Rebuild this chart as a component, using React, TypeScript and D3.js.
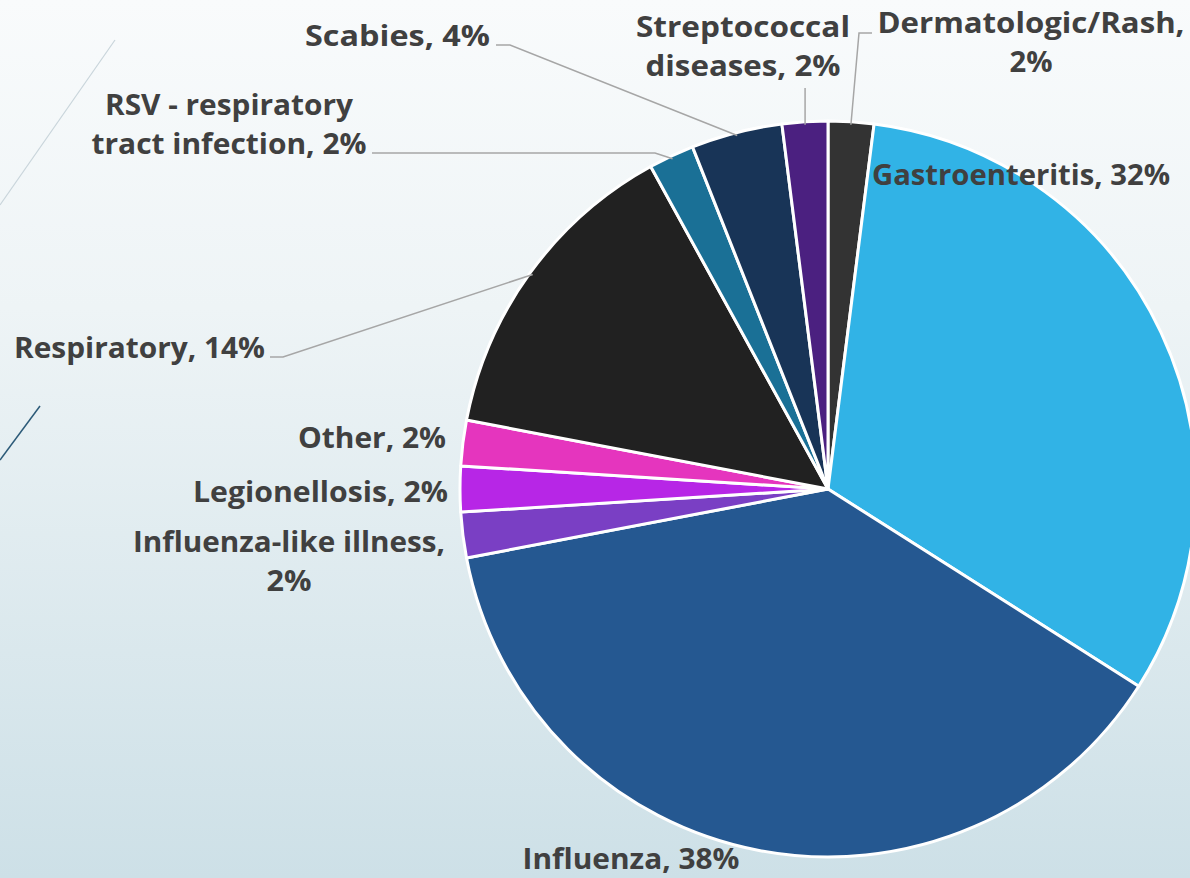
import React from "react";
import * as d3 from "d3";

const categories = [
  "Dermatologic/Rash",
  "Gastroenteritis",
  "Influenza",
  "Influenza-like illness",
  "Legionellosis",
  "Other",
  "Respiratory",
  "RSV - respiratory tract infection",
  "Scabies",
  "Streptococcal diseases",
];
const values = [1, 16, 19, 1, 1, 1, 7, 1, 2, 1];
const colors = [
  "#333333",
  "#31b3e6",
  "#255891",
  "#7a3fc4",
  "#b726e6",
  "#e535be",
  "#212121",
  "#1a7096",
  "#183457",
  "#4b2080",
];
const labelLines = [
  ["Dermatologic/Rash,", "2%"],
  ["Gastroenteritis, 32%"],
  ["Influenza, 38%"],
  ["Influenza-like illness,", "2%"],
  ["Legionellosis, 2%"],
  ["Other, 2%"],
  ["Respiratory, 14%"],
  ["RSV - respiratory", "tract infection, 2%"],
  ["Scabies, 4%"],
  ["Streptococcal", "diseases, 2%"],
];

// layout of labels: anchor, x, first baseline, line widths
const labelLayout: {
  anchor: string;
  x: number;
  y: number;
  w: number[];
  leader?: number[][];
}[] = [
  { anchor: "middle", x: 1031, y: 33, w: [307, 43], leader: [[872, 33], [859, 33]] },
  { anchor: "start", x: 872, y: 185, w: [298] },
  { anchor: "middle", x: 631, y: 869, w: [217] },
  { anchor: "middle", x: 289, y: 552, w: [312, 45] },
  { anchor: "end", x: 448, y: 502, w: [255] },
  { anchor: "end", x: 446, y: 448, w: [148] },
  { anchor: "end", x: 265, y: 358, w: [251], leader: [[270, 357], [283, 357]] },
  { anchor: "middle", x: 229, y: 115, w: [248, 275], leader: [[372, 153], [655, 153]] },
  { anchor: "end", x: 490, y: 46, w: [185], leader: [[496, 45], [510, 45]] },
  { anchor: "middle", x: 743, y: 37, w: [214, 195], leader: [[806, 88]] },
];

const W = 1190;
const H = 878;
const cx = 828;
const cy = 489;
const R = 368;
const FONT = "'Open Sans', 'Liberation Sans', sans-serif";
const FS = 29;
const LH = 39;

export default function App() {
  const pie = d3
    .pie<number>()
    .sort(null)
    .value((d) => d)
    .startAngle(0)
    .endAngle(2 * Math.PI);
  const arcs = pie(values);
  const arc = d3.arc<d3.PieArcDatum<number>>().innerRadius(0).outerRadius(R);
  const edgeArc = d3.arc<d3.PieArcDatum<number>>().innerRadius(R - 3).outerRadius(R - 3);

  return (
    <svg
      width={W}
      height={H}
      style={{ position: "absolute", left: 0, top: 0, display: "block" }}
    >
      <defs>
        <linearGradient id="bg" x1="0" y1="0" x2="0" y2="1">
          <stop offset="0" stopColor="#f9fbfc" />
          <stop offset="0.35" stopColor="#eef4f6" />
          <stop offset="1" stopColor="#cde0e7" />
        </linearGradient>
      </defs>
      <rect x={0} y={0} width={W} height={H} fill="url(#bg)" />
      <line x1={115} y1={40} x2={0} y2={205} stroke="#c9d5db" strokeWidth={1.2} />
      <line x1={40} y1={406} x2={0} y2={460} stroke="#2c5a78" strokeWidth={1.5} />

      <g transform={`translate(${cx},${cy})`}>
        {arcs.map((a, i) => (
          <path
            key={categories[i]}
            d={arc(a) || ""}
            fill={colors[i]}
            stroke="#ffffff"
            strokeWidth={3}
            strokeLinejoin="round"
          />
        ))}
      </g>

      {arcs.map((a, i) => {
        const L = labelLayout[i];
        if (!L.leader) return null;
        const [ex, ey] = edgeArc.centroid(a);
        const pts = [...L.leader, [ex + cx, ey + cy]];
        if (L.leader.length === 1) {
          pts[0] = [ex + cx, L.leader[0][1]];
        }
        return (
          <polyline
            key={"l" + i}
            points={pts.map((p) => p.join(",")).join(" ")}
            fill="none"
            stroke="#a6a6a6"
            strokeWidth={1.5}
          />
        );
      })}

      {labelLines.map((lines, i) => {
        const L = labelLayout[i];
        return lines.map((ln, j) => (
          <text
            key={"t" + i + "_" + j}
            x={L.x}
            y={L.y + j * LH}
            textAnchor={L.anchor as any}
            fontFamily={FONT}
            fontWeight="bold"
            fontSize={FS}
            fill="#404040"
            textLength={L.w[j]}
            lengthAdjust="spacingAndGlyphs"
          >
            {ln}
          </text>
        ));
      })}
    </svg>
  );
}
